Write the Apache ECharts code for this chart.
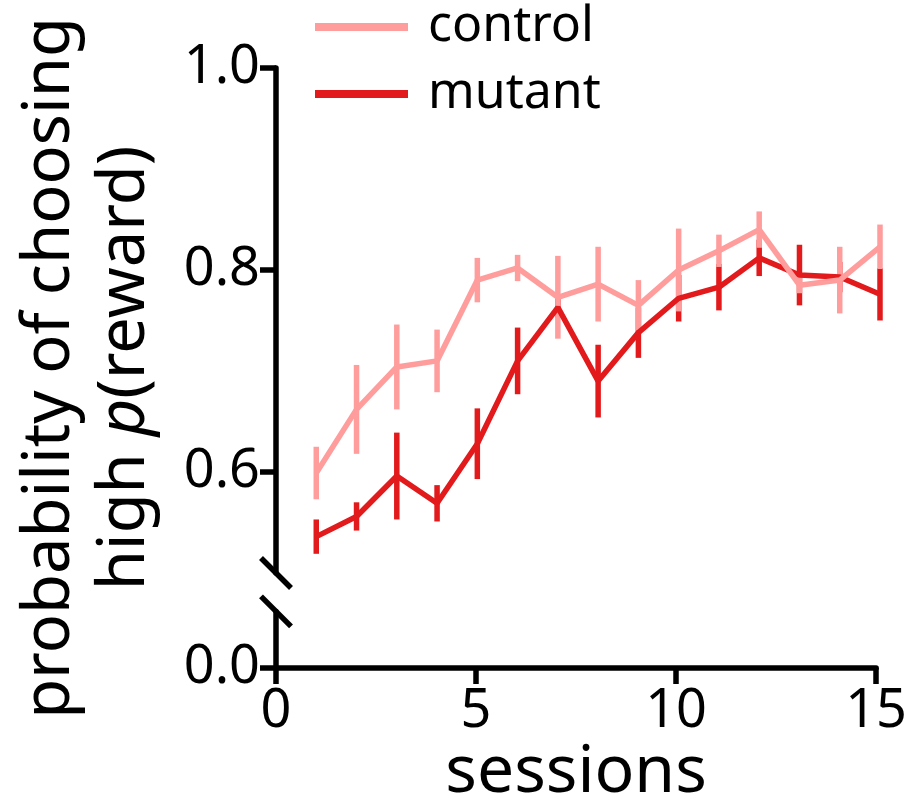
<!DOCTYPE html>
<html>
<head>
<meta charset="utf-8">
<script src="https://cdn.jsdelivr.net/npm/echarts@6/dist/echarts.min.js"></script>
<style>
  html, body { margin: 0; padding: 0; background: #fff; }
  #chart { width: 910px; height: 807px; }
</style>
</head>
<body>
<div id="chart"></div>
<script>
// sessions on x, mean +/- error for each group
const sessions = [1, 2, 3, 4, 5, 6, 7, 8, 9, 10, 11, 12, 13, 14, 15];
const controlMean = [0.599, 0.662, 0.704, 0.710, 0.790, 0.802, 0.773, 0.786, 0.765, 0.800, 0.819, 0.840, 0.785, 0.790, 0.823];
const controlErr = [0.026, 0.044, 0.042, 0.031, 0.022, 0.013, 0.041, 0.037, 0.025, 0.041, 0.016, 0.018, 0.008, 0.033, 0.022];
const mutantMean = [0.536, 0.556, 0.596, 0.569, 0.628, 0.710, 0.763, 0.690, 0.738, 0.772, 0.783, 0.812, 0.795, 0.793, 0.776];
const mutantErr = [0.017, 0.014, 0.043, 0.018, 0.035, 0.033, 0.010, 0.036, 0.025, 0.023, 0.023, 0.018, 0.030, 0.015, 0.026];
const upperTicks = [0.6, 0.8, 1.0];
const lowerTicks = [0];
const xTicks = [0, 5, 10, 15];

const FONT = "'Noto Sans', sans-serif";
const controlColor = '#ff9d9d';
const mutantColor = '#e31a1c';
const AXW = 5.5;
const TICKFS = 54;

function linePts(mean) {
  return sessions.map((s, i) => [s, mean[i]]);
}
function errPts(mean, err) {
  return sessions.map((s, i) => [s, mean[i] - err[i], mean[i] + err[i]]);
}
function errBars(color) {
  return function (params, api) {
    const lo = api.coord([api.value(0), api.value(1)]);
    const hi = api.coord([api.value(0), api.value(2)]);
    return {
      type: 'line',
      shape: { x1: lo[0], y1: lo[1], x2: hi[0], y2: hi[1] },
      style: { stroke: color, lineWidth: 5.5 }
    };
  };
}

const chart = echarts.init(document.getElementById('chart'));

const option = {
  animation: false,
  backgroundColor: '#fff',
  grid: [
    { left: 276, right: 30, top: 68, bottom: 234 },
    { left: 276, right: 30, top: 611.4, bottom: 135 }
  ],
  legend: {
    orient: 'vertical',
    left: 315,
    top: 2,
    padding: 0,
    itemGap: 17,
    itemWidth: 93,
    itemHeight: 8,
    icon: 'rect',
    textStyle: { fontSize: 50, fontFamily: FONT, color: '#000', padding: [0, 0, 0, 15] },
    data: [
      { name: 'control', itemStyle: { color: controlColor } },
      { name: 'mutant', itemStyle: { color: mutantColor } }
    ]
  },
  xAxis: [
    { gridIndex: 0, type: 'value', min: 0, max: 15, show: false },
    {
      gridIndex: 1, type: 'value', min: 0, max: 15, interval: 5,
      name: 'sessions', nameLocation: 'middle', nameGap: 68,
      nameTextStyle: { fontSize: 66, fontFamily: FONT, color: '#000' },
      axisLine: { lineStyle: { color: '#000', width: AXW } },
      axisTick: { length: 16, lineStyle: { color: '#000', width: AXW }, customValues: xTicks },
      axisLabel: { fontSize: TICKFS, fontFamily: FONT, color: '#000', margin: 17, customValues: xTicks },
      splitLine: { show: false }
    }
  ],
  yAxis: [
    {
      gridIndex: 0, type: 'value', min: 0.5, max: 1.0,
      axisLine: { show: true, lineStyle: { color: '#000', width: AXW } },
      axisTick: { show: true, length: 16, lineStyle: { color: '#000', width: AXW }, customValues: upperTicks },
      axisLabel: {
        fontSize: TICKFS, fontFamily: FONT, color: '#000', margin: 16, customValues: upperTicks,
        formatter: v => v.toFixed(1)
      },
      splitLine: { show: false }
    },
    {
      gridIndex: 1, type: 'value', min: 0, max: 0.06,
      axisLine: { show: true, lineStyle: { color: '#000', width: AXW } },
      axisTick: { show: true, length: 16, lineStyle: { color: '#000', width: AXW }, customValues: lowerTicks },
      axisLabel: {
        fontSize: TICKFS, fontFamily: FONT, color: '#000', margin: 16, customValues: lowerTicks,
        formatter: v => v.toFixed(1)
      },
      splitLine: { show: false }
    }
  ],
  series: [
    {
      name: 'mutant err', type: 'custom', xAxisIndex: 0, yAxisIndex: 0,
      renderItem: errBars(mutantColor), data: errPts(mutantMean, mutantErr)
    },
    {
      name: 'mutant', type: 'line', xAxisIndex: 0, yAxisIndex: 0,
      data: linePts(mutantMean), showSymbol: false, symbol: 'none',
      itemStyle: { color: mutantColor },
      lineStyle: { color: mutantColor, width: 5.5 }
    },
    {
      name: 'control err', type: 'custom', xAxisIndex: 0, yAxisIndex: 0,
      renderItem: errBars(controlColor), data: errPts(controlMean, controlErr)
    },
    {
      name: 'control', type: 'line', xAxisIndex: 0, yAxisIndex: 0,
      data: linePts(controlMean), showSymbol: false, symbol: 'none',
      itemStyle: { color: controlColor },
      lineStyle: { color: controlColor, width: 5.5 }
    }
  ]
};

chart.setOption(option);

// axis break marks and the y axis title
const top0 = chart.convertToPixel({ gridIndex: 0 }, [0, 0.5]);
const bot0 = chart.convertToPixel({ gridIndex: 1 }, [0, 0.06]);
const h = 15;
chart.setOption({
  graphic: [
    {
      type: 'line', z: 10,
      shape: { x1: top0[0] - h, y1: top0[1] - h, x2: top0[0] + h, y2: top0[1] + h },
      style: { stroke: '#000', lineWidth: AXW }
    },
    {
      type: 'line', z: 10,
      shape: { x1: bot0[0] - h, y1: bot0[1] - h, x2: bot0[0] + h, y2: bot0[1] + h },
      style: { stroke: '#000', lineWidth: AXW }
    },
    {
      type: 'text', x: 88, y: 368, rotation: Math.PI / 2,
      style: {
        text: 'probability of choosing\nhigh {i|p}(reward)',
        fontSize: 65, fontFamily: FONT, fill: '#000', lineHeight: 75,
        align: 'center', verticalAlign: 'middle',
        rich: { i: { fontStyle: 'italic', fontSize: 65, fontFamily: FONT, lineHeight: 75 } }
      }
    }
  ]
});
</script>
</body>
</html>
